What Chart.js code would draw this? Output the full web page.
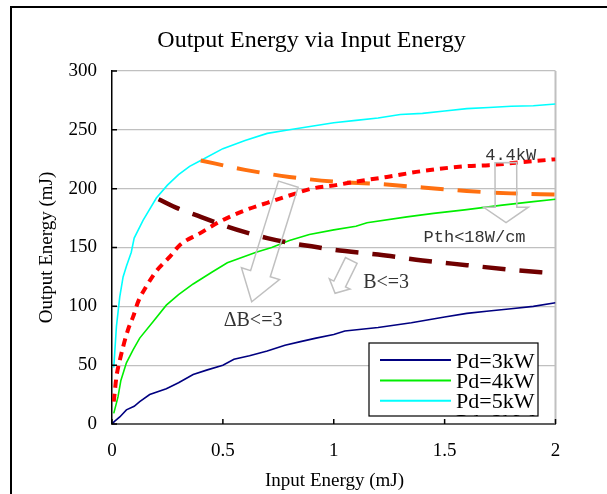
<!DOCTYPE html>
<html>
<head>
<meta charset="utf-8">
<script src="https://cdn.jsdelivr.net/npm/chart.js@4"></script>
<style>
html,body{margin:0;padding:0;background:#fff;}
#wrap{width:607px;height:494px;position:relative;}
</style>
</head>
<body>
<div id="wrap"><canvas id="c" width="607" height="494"></canvas></div>
<script>
// ---- data ----
const xTickValues = [0, 0.5, 1, 1.5, 2];
const yTickValues = [0, 50, 100, 150, 200, 250, 300];

const pd3kW = [[0,0],[0.01,2],[0.035,6],[0.065,12],[0.1,15],[0.125,19],[0.17,25],[0.245,30],[0.3,35],[0.366,42],[0.43,46],[0.5,50],[0.55,55],[0.62,58],[0.7,62],[0.78,67],[0.85,70],[0.92,73],[1.0,76],[1.05,79],[1.2,82],[1.35,86],[1.5,91],[1.6,94],[1.7,96],[1.8,98],[1.9,100],[2.0,103]];
const pd4kW = [[0.008,9],[0.027,23],[0.04,37],[0.065,52],[0.095,63],[0.125,73],[0.185,87],[0.245,101],[0.3,110],[0.366,119],[0.45,129],[0.52,137],[0.65,146],[0.72,150],[0.8,156],[0.89,161],[1.0,165],[1.1,168],[1.15,171],[1.33,176],[1.45,179],[1.59,182],[1.76,186],[1.9,189],[2.0,191]];
const pd5kW = [[0.008,48],[0.02,83],[0.035,108],[0.05,125],[0.065,134],[0.087,146],[0.1,158],[0.14,173],[0.2,192],[0.25,203],[0.3,212],[0.35,219],[0.4,224],[0.5,234],[0.6,241],[0.7,247],[0.8,250],[0.9,253],[1.0,256],[1.1,258],[1.2,260],[1.3,263],[1.4,264],[1.5,266],[1.6,268],[1.7,269],[1.8,270],[1.9,270.5],[2.0,272]];
const pd44kW = [[0.008,19],[0.02,40],[0.035,54],[0.072,80],[0.095,91],[0.118,104],[0.155,117],[0.2,130],[0.26,142],[0.305,152],[0.396,162],[0.486,172],[0.606,182],[0.7,188],[0.83,196],[0.9,200],[1.01,203],[1.1,206],[1.24,210],[1.4,215],[1.59,219],[1.7,220],[1.82,222],[2.0,225]];
const pthLimit = [[0.4,224],[0.6,216],[0.8,210],[1.0,206],[1.2,204],[1.4,201],[1.6,198],[1.8,196],[2.0,195]];
const bLimit = [[0.21,191],[0.3,183],[0.4,176],[0.5,169],[0.6,163],[0.7,158],[0.8,154],[0.9,151],[1.0,148],[1.2,144],[1.4,139],[1.6,135],[1.8,131],[2.0,128]];

const legendLabels = ['Pd=3kW', 'Pd=4kW', 'Pd=5kW', 'Pd=2kW'];
const titleText = 'Output Energy via Input Energy';
const xTitle = 'Input Energy (mJ)';
const yTitle = 'Output Energy (mJ)';

// ---- annotations (arrows / notes), positioned in data units ----
const arrows = [
  {x1:1.776, y1:222.1, x2:1.777, y2:171.1, shaft:21.7, head:44.7, headLen:15.4},
  {x1:0.795, y1:203.8, x2:0.630, y2:103.9, shaft:20.6, head:39.8, headLen:29.4},
  {x1:1.079, y1:139.0, x2:1.006, y2:111.1, shaft:13,   head:23,   headLen:10.4}
];
const notes = [
  {text:'4.4kW',      x:1.798, y:228.6, font:'17px "Liberation Mono"'},
  {text:'Pth<18W/cm', x:1.635, y:158.9, font:'17px "Liberation Mono"'},
  {text:'B<=3',       x:1.236, y:119.8, font:'20px "Liberation Serif"'},
  {text:'\u0394B<=3', x:0.636, y:87.5,  font:'20px "Liberation Serif"'}
];

const toXY = arr => arr.map(p => ({x:p[0], y:p[1]}));

const SERIF = '"Liberation Serif", "Times New Roman", serif';

const decor = {
  id: 'decor',
  beforeDraw(chart) {
    const ctx = chart.ctx;
    ctx.save();
    ctx.fillStyle = '#fff';
    ctx.fillRect(0, 0, chart.width, chart.height);
    // outer frame (cropped on right and bottom)
    ctx.strokeStyle = '#000';
    ctx.lineWidth = 2;
    ctx.beginPath();
    ctx.moveTo(11, chart.height + 2);
    ctx.lineTo(11, 7);
    ctx.lineTo(chart.width + 2, 7);
    ctx.stroke();
    // title
    ctx.fillStyle = '#000';
    ctx.font = '24px ' + SERIF;
    ctx.textAlign = 'center';
    ctx.textBaseline = 'alphabetic';
    ctx.fillText(titleText, 311.5, 47);
    // axis titles
    ctx.font = '19px ' + SERIF;
    ctx.fillText(xTitle, 334.5, 486);
    ctx.translate(52, 247.5);
    ctx.rotate(-Math.PI / 2);
    ctx.fillText(yTitle, 0, 0);
    ctx.restore();
  },
  beforeDatasetsDraw(chart) {
    const ctx = chart.ctx, a = chart.chartArea;
    ctx.save();
    // right border of plot area
    ctx.strokeStyle = '#c0c0c0';
    ctx.lineWidth = 2;
    ctx.beginPath();
    ctx.moveTo(a.right, a.top);
    ctx.lineTo(a.right, a.bottom);
    ctx.stroke();
    ctx.restore();
  },
  afterDatasetsDraw(chart) {
    const ctx = chart.ctx, xs = chart.scales.x, ys = chart.scales.y, a = chart.chartArea;
    ctx.save();
    // inside tick marks
    ctx.strokeStyle = '#000';
    ctx.lineWidth = 1.5;
    ctx.beginPath();
    yTickValues.forEach(v => { const py = ys.getPixelForValue(v); ctx.moveTo(a.left, py); ctx.lineTo(a.left + 5, py); });
    xTickValues.forEach(v => { const px = xs.getPixelForValue(v); ctx.moveTo(px, a.bottom); ctx.lineTo(px, a.bottom - 5); });
    ctx.stroke();
    // arrows
    ctx.strokeStyle = '#c0c0c0';
    ctx.lineWidth = 1.5;
    arrows.forEach(ar => {
      const x1 = xs.getPixelForValue(ar.x1), y1 = ys.getPixelForValue(ar.y1);
      const x2 = xs.getPixelForValue(ar.x2), y2 = ys.getPixelForValue(ar.y2);
      const dx = x2 - x1, dy = y2 - y1, L = Math.hypot(dx, dy);
      const ux = dx / L, uy = dy / L, nx = -uy, ny = ux;
      const bx = x2 - ux * ar.headLen, by = y2 - uy * ar.headLen;
      const s = ar.shaft / 2, h = ar.head / 2;
      ctx.beginPath();
      ctx.moveTo(x1 + nx * s, y1 + ny * s);
      ctx.lineTo(bx + nx * s, by + ny * s);
      ctx.lineTo(bx + nx * h, by + ny * h);
      ctx.lineTo(x2, y2);
      ctx.lineTo(bx - nx * h, by - ny * h);
      ctx.lineTo(bx - nx * s, by - ny * s);
      ctx.lineTo(x1 - nx * s, y1 - ny * s);
      ctx.closePath();
      ctx.stroke();
    });
    // notes
    ctx.fillStyle = '#333';
    ctx.textAlign = 'center';
    ctx.textBaseline = 'middle';
    notes.forEach(n => {
      ctx.font = n.font;
      ctx.fillText(n.text, xs.getPixelForValue(n.x), ys.getPixelForValue(n.y));
    });
    ctx.restore();
  },
  afterDraw(chart) {
    const ctx = chart.ctx;
    const bx = 369, by = 343, bw = 169, bh = 73;
    ctx.save();
    ctx.fillStyle = '#fff';
    ctx.fillRect(bx, by, bw, bh);
    ctx.beginPath();
    ctx.rect(bx, by, bw, bh);
    ctx.clip();
    legendLabels.forEach((lab, i) => {
      const ly = 360 + i * 20.4;
      const ds = chart.data.datasets[i];
      if (ds) {
        ctx.strokeStyle = ds.borderColor;
        ctx.lineWidth = 2;
        ctx.setLineDash([]);
        ctx.beginPath();
        ctx.moveTo(380, ly);
        ctx.lineTo(451, ly);
        ctx.stroke();
      }
      ctx.fillStyle = '#000';
      ctx.font = '22px ' + SERIF;
      ctx.textAlign = 'left';
      ctx.textBaseline = 'alphabetic';
      ctx.fillText(lab, 456, ly + 7.5);
    });
    ctx.restore();
    ctx.save();
    ctx.strokeStyle = '#000';
    ctx.lineWidth = 1.2;
    ctx.strokeRect(bx, by, bw, bh);
    ctx.restore();
  }
};

new Chart(document.getElementById('c'), {
  type: 'line',
  data: {
    datasets: [
      {label: legendLabels[0], data: toXY(pd3kW), borderColor: '#000080', borderWidth: 1.6, pointRadius: 0, tension: 0},
      {label: legendLabels[1], data: toXY(pd4kW), borderColor: '#00ee00', borderWidth: 1.6, pointRadius: 0, tension: 0},
      {label: legendLabels[2], data: toXY(pd5kW), borderColor: '#00ffff', borderWidth: 1.6, pointRadius: 0, tension: 0},
      {label: '4.4kW', data: toXY(pd44kW), borderColor: '#ff0000', borderWidth: 4, borderDash: [8, 6], pointRadius: 0, cubicInterpolationMode: 'monotone', order: -1},
      {label: 'Pth', data: toXY(pthLimit), borderColor: '#ff7010', borderWidth: 4, borderDash: [23, 14], pointRadius: 0, cubicInterpolationMode: 'monotone', order: -1},
      {label: 'B', data: toXY(bLimit), borderColor: '#700000', borderWidth: 4.5, borderDash: [23, 14], pointRadius: 0, cubicInterpolationMode: 'monotone', order: -2}
    ]
  },
  options: {
    responsive: false,
    animation: false,
    devicePixelRatio: 1,
    layout: {padding: {left: 0, top: 71, right: 51.5, bottom: 0}},
    plugins: {legend: {display: false}, title: {display: false}, tooltip: {enabled: false}},
    scales: {
      x: {
        type: 'linear', min: 0, max: 2,
        afterFit: s => { s.height = 70; },
        afterBuildTicks: s => { s.ticks = xTickValues.map(v => ({value: v})); },
        grid: {display: true, drawOnChartArea: false, drawTicks: false},
        border: {display: true, color: '#606060', width: 2},
        ticks: {padding: 16, color: '#000', font: {family: SERIF, size: 19}, maxRotation: 0, callback: v => String(v)}
      },
      y: {
        type: 'linear', min: 0, max: 300,
        afterFit: s => { s.width = 112; },
        afterBuildTicks: s => { s.ticks = yTickValues.map(v => ({value: v})); },
        grid: {color: '#c0c0c0', lineWidth: 1.2, drawTicks: false},
        border: {display: true, color: '#000', width: 1.5},
        ticks: {padding: 15, color: '#000', font: {family: SERIF, size: 19}, callback: v => String(v)}
      }
    }
  },
  plugins: [decor]
});
</script>
</body>
</html>
